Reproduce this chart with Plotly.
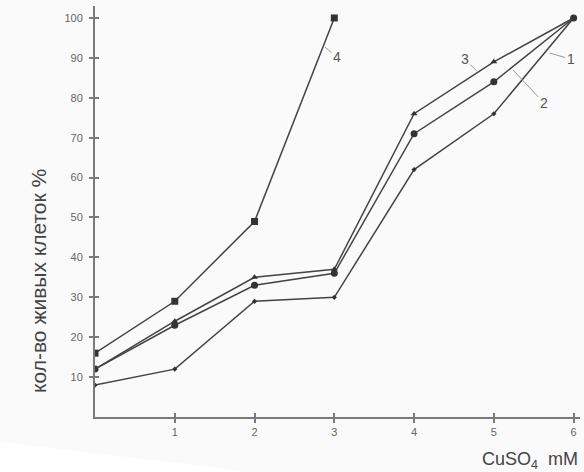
import plotly.graph_objects as go

# Cell survival vs CuSO4 concentration
conc = [0, 1, 2, 3, 4, 5, 6]
conc_4 = [0, 1, 2, 3]
series_1 = [8, 12, 29, 30, 62, 76, 100]
series_2 = [12, 23, 33, 36, 71, 84, 100]
series_3 = [12, 24, 35, 37, 76, 89, 100]
series_4 = [16, 29, 49, 100]
x_ticks = [1, 2, 3, 4, 5, 6]
y_ticks = [10, 20, 30, 40, 50, 60, 70, 80, 90, 100]

FONT = "Liberation Sans, Arial, sans-serif"
LINE = "#444444"
AXIS = "#7a7a7a"
TICKTXT = "#666666"
X_RANGE = [0, 6.08]
Y_RANGE = [0, 103]

fig = go.Figure()

def add_series(xs, ys, symbol, size):
    fig.add_trace(go.Scatter(
        x=xs, y=ys, mode="lines+markers",
        line=dict(color=LINE, width=1.5),
        marker=dict(symbol=symbol, size=size, color="#333333"),
        showlegend=False, hoverinfo="x+y",
    ))

add_series(conc, series_1, "diamond", 4)
add_series(conc, series_2, "circle", 7)
add_series(conc, series_3, "triangle-up", 6)
add_series(conc_4, series_4, "square", 7)

# curve number labels with leader lines
labels = [
    ("4", 2.882, 92.7, 12, 10),
    ("3", 4.787, 86.7, -12, -12),
    ("1", 5.70, 91.2, 21, 6),
    ("2", 5.238, 87.0, 31, 33),
]
for txt, lx, ly, ax, ay in labels:
    fig.add_annotation(
        x=lx, y=ly, xref="x", yref="y", text=txt,
        showarrow=True, arrowhead=0, arrowwidth=1, arrowcolor="#9a9a9a",
        ax=ax, ay=ay, font=dict(family=FONT, size=14, color="#555555"),
    )

# x axis title with subscript
fig.add_annotation(
    x=1.0, y=-0.072, xref="paper", yref="paper", xanchor="right", yanchor="top",
    text="CuSO<sub>4</sub>  mM", showarrow=False,
    font=dict(family=FONT, size=18, color="#444444"),
)

# y axis title
fig.add_annotation(
    x=-0.1155, y=0.331, xref="paper", yref="paper", xanchor="center", yanchor="middle",
    text="кол-во живых клеток %", textangle=-90, showarrow=False,
    font=dict(family=FONT, size=21, color="#444444"),
)

axis_common = dict(showgrid=False, zeroline=False, showline=True,
                   linecolor=AXIS, linewidth=2, ticks="outside",
                   ticklen=4, tickwidth=2, tickcolor=AXIS)

fig.update_layout(
    width=584, height=472,
    margin=dict(l=95, r=4, t=6, b=55),
    paper_bgcolor="#fafafa", plot_bgcolor="#fafafa",
    font=dict(family=FONT, color="#555555"),
    xaxis=dict(range=X_RANGE, tickvals=x_ticks, ticktext=[str(v) for v in x_ticks],
               tickfont=dict(family=FONT, size=11, color=TICKTXT), **axis_common),
    yaxis=dict(range=Y_RANGE, tickvals=y_ticks, ticktext=[str(v) for v in y_ticks],
               tickfont=dict(family=FONT, size=11, color=TICKTXT), ticklabelstandoff=4,
               **axis_common),
    # overlay axes drawing the inner halves of the tick marks
    xaxis2=dict(range=X_RANGE, overlaying="x", side="bottom", anchor="y",
                tickvals=[0] + x_ticks, showticklabels=False, ticks="inside",
                ticklen=4, tickwidth=2, tickcolor=AXIS, showgrid=False,
                zeroline=False, showline=False),
    yaxis2=dict(range=Y_RANGE, overlaying="y", side="left", anchor="x",
                tickvals=[0] + y_ticks, showticklabels=False, ticks="inside",
                ticklen=4, tickwidth=2, tickcolor=AXIS, showgrid=False,
                zeroline=False, showline=False),
)

# dummy trace to bind the overlay axes
fig.add_trace(go.Scatter(x=[None], y=[None], xaxis="x2", yaxis="y2",
                         showlegend=False, hoverinfo="skip"))

# lighter lower-left wedge of the page
fig.add_shape(type="path", xref="paper", yref="paper", layer="below",
              path="M -0.2 -0.06 L 0.3 -0.13 L 0.3 -0.2 L -0.2 -0.2 Z",
              fillcolor="#ffffff", line=dict(width=0))

fig.write_html("out.html")
